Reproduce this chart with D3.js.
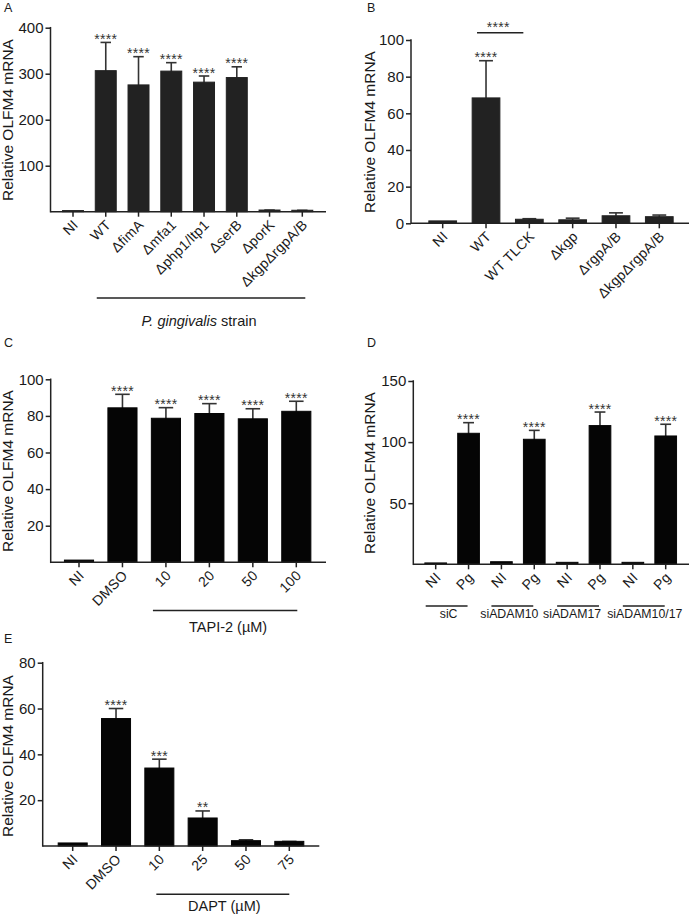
<!DOCTYPE html>
<html><head><meta charset="utf-8">
<script src="https://cdn.jsdelivr.net/npm/d3@7"></script>
<style>
body{margin:0;background:#fff}
svg{display:block;font-family:"Liberation Sans",Arial,Helvetica,sans-serif}
</style>
</head><body>
<svg id="chart" width="696" height="917"></svg>
<script>
// ---------- DATA ----------
// Panel A
const aCats  = ["NI","WT","ΔfimA","Δmfa1","Δphp1/ltp1","ΔserB","ΔporK","ΔkgpΔrgpA/B"];
const aMean  = [0.8, 305, 274, 304, 280, 290, 2, 1.5];
const aUpper = [0.8, 368, 337, 324, 295, 315, 3.5, 3];
const aStars = ["","****","****","****","****","****","",""];
const aTicks = [100,200,300,400];
// Panel B
const bCats  = ["NI","WT","WT TLCK","Δkgp","ΔrgpA/B","ΔkgpΔrgpA/B"];
const bMean  = [0.9, 68, 1.8, 1.5, 3.7, 3.2];
const bUpper = [0.9, 88.7, 2.5, 2.8, 5.7, 4.5];
const bStars = ["","****","","","",""];
const bTicks = [0,20,40,60,80,100];
// Panel C
const cCats  = ["NI","DMSO","10","20","50","100"];
const cMean  = [0.8, 84, 78.3, 80.9, 78, 82.1];
const cUpper = [0.8, 91.8, 84.5, 86.7, 83.9, 88];
const cStars = ["","****","****","****","****","****"];
const cTicks = [20,40,60,80,100];
// Panel D
const dCats  = ["NI1","Pg1","NI2","Pg2","NI3","Pg3","NI4","Pg4"];
const dLabels= ["NI","Pg","NI","Pg","NI","Pg","NI","Pg"];
const dMean  = [0.5, 106.6, 1.5, 101.7, 1, 112.9, 1, 104.4];
const dUpper = [0.5, 115.9, 1.5, 109.6, 1, 124.6, 1, 114.6];
const dStars = ["","****","","****","","****","","****"];
const dTicks = [50,100,150];
const dGroups= ["siC","siADAM10","siADAM17","siADAM10/17"];
// Panel E
const eCats  = ["NI","DMSO","10","25","50","75"];
const eMean  = [1, 55.3, 33.7, 11.9, 2, 1.7];
const eUpper = [1, 60, 37.9, 15.3, 2.7, 2];
const eStars = ["","****","***","**","",""];
const eTicks = [20,40,60,80];

const yLabel = "Relative OLFM4 mRNA";
const svg = d3.select("#chart");
const FONT = '"Liberation Sans",Arial,Helvetica,sans-serif';
const TXT = "#1a1a1a";

function panel(o){
  const g = svg.append("g");
  const n = o.cats.length;
  const step = (o.c1 - o.c0)/(n-1);
  const x = d3.scaleBand().domain(o.cats)
      .range([o.c0 - step/2, o.c1 + step/2])
      .paddingInner(o.pi).paddingOuter(o.pi/2);
  const y = d3.scaleLinear().domain([0,o.ymax]).range([o.y0,o.y1]);
  const bw = x.bandwidth();
  const cap = bw*0.5;

  // error bars (upper only)
  o.cats.forEach((c,i)=>{
    const cx = x(c)+bw/2;
    if (o.upper[i] - o.mean[i] > 0.05) {
      g.append("line").attr("x1",cx).attr("x2",cx)
        .attr("y1",y(o.mean[i])).attr("y2",y(o.upper[i]))
        .attr("stroke","#333").attr("stroke-width",1.6);
      g.append("line").attr("x1",cx-cap/2).attr("x2",cx+cap/2)
        .attr("y1",y(o.upper[i])).attr("y2",y(o.upper[i]))
        .attr("stroke","#333").attr("stroke-width",1.6);
    }
  });
  // bars
  g.selectAll("rect.bar").data(o.cats).join("rect")
    .attr("x",c=>x(c)).attr("width",bw)
    .attr("y",(c,i)=>y(o.mean[i])-0.75)
    .attr("height",(c,i)=>o.y0-y(o.mean[i])+0.75)
    .attr("fill",o.fill).attr("stroke",o.fill).attr("stroke-width",1);
  // stars
  g.selectAll("text.star").data(o.cats).join("text")
    .attr("x",c=>x(c)+bw/2).attr("y",(c,i)=>y(o.upper[i])+1.5)
    .attr("text-anchor","middle").attr("font-size",14)
    .attr("letter-spacing",0.3).attr("fill","#333")
    .text((c,i)=>o.stars[i]);

  // y axis
  const ya = g.append("g").attr("transform",`translate(${o.axisX},0)`)
    .call(d3.axisLeft(y).tickValues(o.ticks).tickSize(5).tickSizeOuter(0).tickPadding(2));
  ya.select(".domain").remove();
  ya.selectAll(".tick line").attr("stroke","#222").attr("stroke-width",1.5);
  ya.selectAll(".tick text").attr("font-size",15).attr("font-family",FONT).attr("fill",TXT);
  g.append("line").attr("x1",o.axisX).attr("x2",o.axisX)
    .attr("y1",y(o.ymax)-0.75).attr("y2",o.y0+0.75).attr("stroke","#222").attr("stroke-width",1.5);
  // x axis
  g.append("line").attr("x1",o.axisX).attr("x2",o.xEnd)
    .attr("y1",o.y0).attr("y2",o.y0).attr("stroke","#222").attr("stroke-width",1.5);
  const xa = g.append("g").attr("transform",`translate(0,${o.y0})`)
    .call(d3.axisBottom(x).tickSize(5).tickSizeOuter(0).tickFormat((c,i)=>o.labels[i]));
  xa.select(".domain").remove();
  xa.selectAll(".tick line").attr("stroke","#222").attr("stroke-width",1.5);
  xa.selectAll(".tick text")
    .attr("y",0).attr("dy",0)
    .attr("transform","translate(6,14) rotate(-45)")
    .attr("text-anchor","end").attr("font-size",14).attr("letter-spacing",0.3)
    .attr("font-family",FONT).attr("fill",TXT);

  // y label
  svg.append("text").attr("transform",`translate(${o.labX},${o.labY}) rotate(-90)`)
    .attr("text-anchor","middle").attr("font-size",15.5).attr("fill",TXT).text(yLabel);
  // panel letter
  svg.append("text").attr("x",o.letX).attr("y",o.letY).attr("font-size",12.5)
    .attr("fill",TXT).text(o.letter);
  return {x,y,bw,g};
}

// Panel A
const A = panel({cats:aCats,labels:aCats,mean:aMean,upper:aUpper,stars:aStars,ticks:aTicks,ymax:400,
  axisX:50.5,y0:211.7,y1:27.7,c0:73,c1:302.3,pi:0.36,xEnd:326,fill:"#222",
  labX:13,labY:120,letter:"A",letX:4,letY:12});
// Panel B
const B = panel({cats:bCats,labels:bCats,mean:bMean,upper:bUpper,stars:bStars,ticks:bTicks,ymax:100,
  axisX:411,y0:223.3,y1:40,c0:442.7,c1:659.3,pi:0.36,xEnd:689,fill:"#222",
  labX:375,labY:132,letter:"B",letX:367,letY:12});
// Panel C
const C = panel({cats:cCats,labels:cCats,mean:cMean,upper:cUpper,stars:cStars,ticks:cTicks,ymax:100,
  axisX:50.7,y0:562.3,y1:379.3,c0:79,c1:296.3,pi:0.33,xEnd:326,fill:"#050505",
  labX:13,labY:471,letter:"C",letX:4,letY:347});
// Panel D
const D = panel({cats:dCats,labels:dLabels,mean:dMean,upper:dUpper,stars:dStars,ticks:dTicks,ymax:150,
  axisX:413.3,y0:564.3,y1:381,c0:435.7,c1:665.7,pi:0.34,xEnd:689,fill:"#050505",
  labX:375,labY:473,letter:"D",letX:367,letY:347});
// Panel E
const E = panel({cats:eCats,labels:eCats,mean:eMean,upper:eUpper,stars:eStars,ticks:eTicks,ymax:80,
  axisX:42.7,y0:846,y1:662.7,c0:72.7,c1:289.3,pi:0.33,xEnd:319.3,fill:"#050505",
  labX:13,labY:756,letter:"E",letX:4,letY:643});

function hline(x1,x2,y){
  svg.append("line").attr("x1",x1).attr("x2",x2).attr("y1",y).attr("y2",y)
    .attr("stroke","#222").attr("stroke-width",1.5);
}
function ctext(x,y,t,size){
  return svg.append("text").attr("x",x).attr("y",y).attr("text-anchor","middle")
    .attr("font-size",size).attr("fill",TXT).text(t);
}

// A group annotation
{
  const cx = c=>A.x(c)+A.bw/2;
  hline(cx("WT")-9, cx("ΔkgpΔrgpA/B")+3, 298);
  const t = svg.append("text").attr("x",(cx("WT")+cx("ΔkgpΔrgpA/B"))/2-5).attr("y",326)
    .attr("text-anchor","middle").attr("font-size",14.5).attr("fill",TXT);
  t.append("tspan").attr("font-style","italic").text("P. gingivalis");
  t.append("tspan").text(" strain");
}
// B significance bracket
{
  const cx = c=>B.x(c)+B.bw/2;
  const x1 = cx("WT")-9, x2 = cx("WT TLCK")-6;
  hline(x1,x2,B.y(104));
  svg.append("text").attr("x",(x1+x2)/2-2).attr("y",B.y(104)-1).attr("text-anchor","middle")
    .attr("font-size",14).attr("letter-spacing",0.3).attr("fill","#333").text("****");
}
// C group annotation
{
  const cx = c=>C.x(c)+C.bw/2;
  hline(cx("10")-13, cx("100")+1, 610.5);
  ctext((cx("10")+cx("100"))/2-3, 632, "TAPI-2 (µM)", 14.5);
}
// D group annotations
{
  const cx = c=>D.x(c)+D.bw/2;
  const labelShift = [2, -3, -6, 1];
  dGroups.forEach((gname,i)=>{
    const a = cx(dCats[2*i]) - 10, b = cx(dCats[2*i+1]) - 1;
    hline(a, b, 606);
    ctext((a+b)/2 + labelShift[i], 618, gname, 12.3);
  });
}
// E group annotation
{
  const cx = c=>E.x(c)+E.bw/2;
  hline(cx("10")-3, cx("75"), 894.3);
  ctext((cx("10")+cx("75"))/2, 911, "DAPT (µM)", 14.5);
}
</script>
</body></html>
